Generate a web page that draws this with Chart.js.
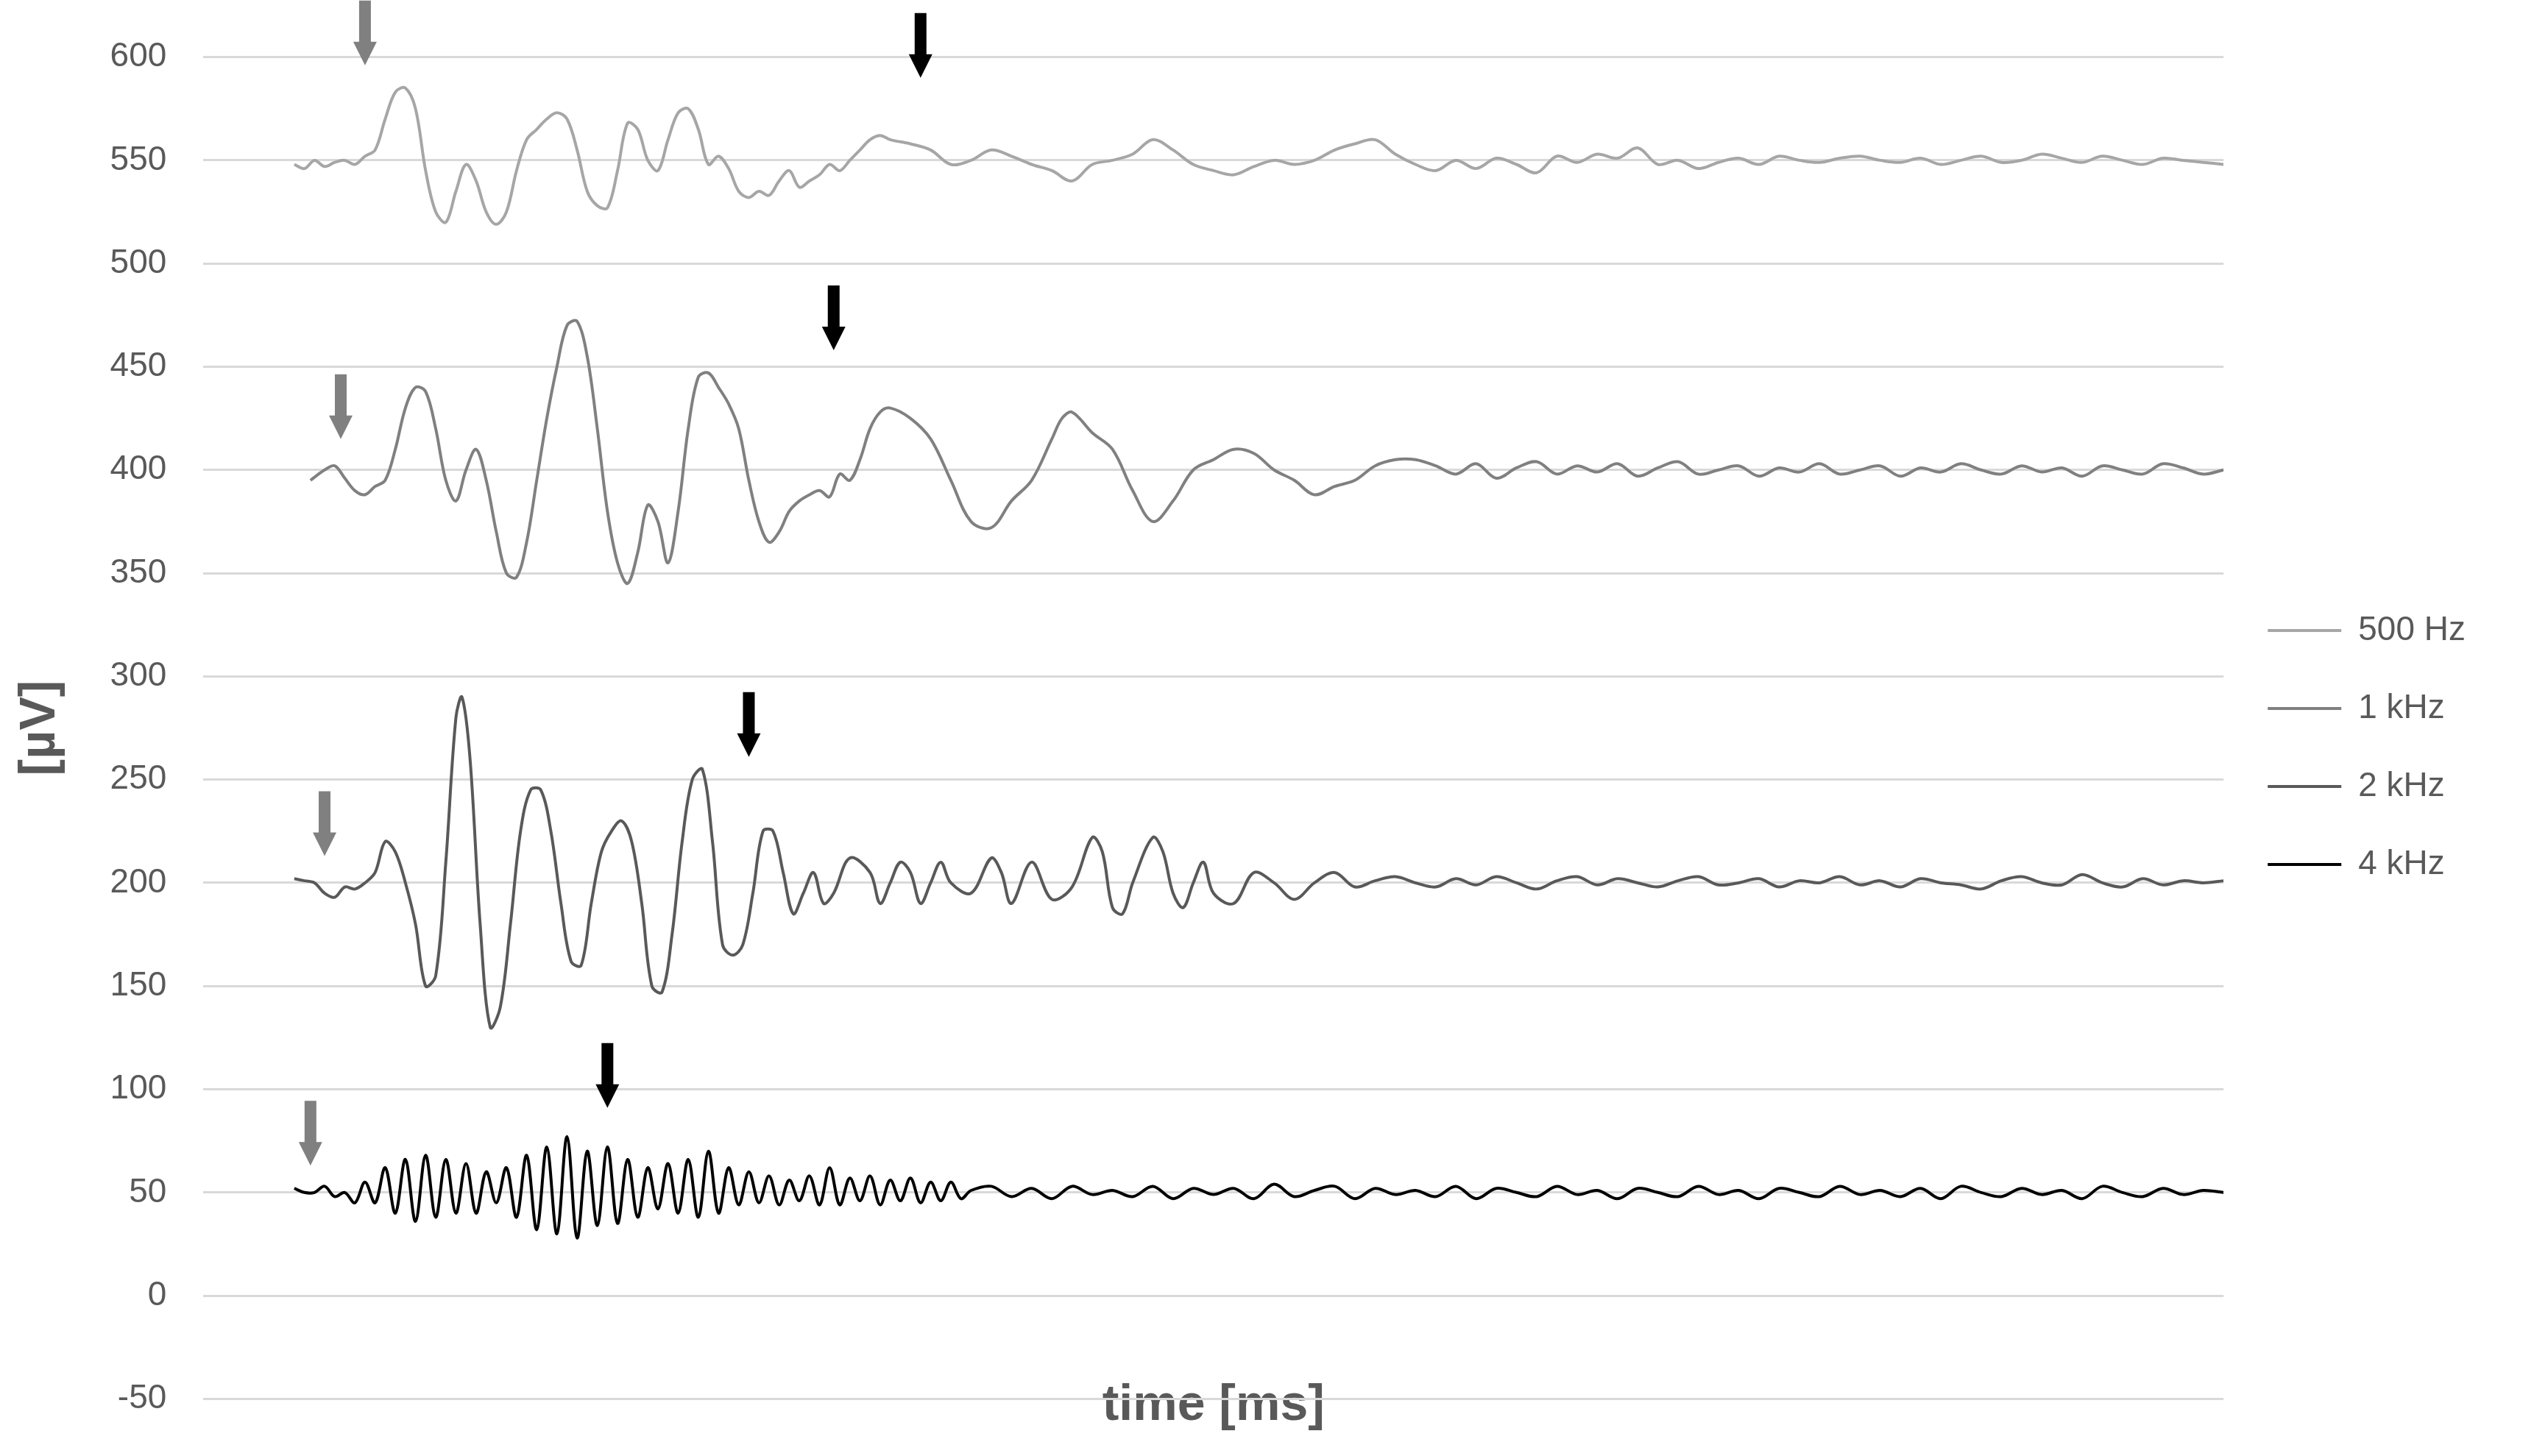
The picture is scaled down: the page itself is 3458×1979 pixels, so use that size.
<!DOCTYPE html>
<html><head><meta charset="utf-8">
<script src="https://cdn.jsdelivr.net/npm/chart.js@4/dist/chart.umd.min.js"></script>
<style>html,body{margin:0;background:#fff}#w{width:3458px;height:1979px}</style>
</head><body><div id="w"><canvas id="c"></canvas></div>
<script>
const seriesNames=["500 Hz","1 kHz","2 kHz","4 kHz"];
const t500=[0.45,0.5,0.55,0.6,0.65,0.7,0.75,0.8,0.85,0.9,0.95,1.0,1.05,1.1,1.15,1.2,1.25,1.3,1.35,1.4,1.45,1.5,1.55,1.6,1.65,1.7,1.75,1.8,1.85,1.9,1.95,2.0,2.05,2.1,2.15,2.2,2.25,2.3,2.35,2.4,2.45,2.5,2.55,2.6,2.65,2.7,2.75,2.8,2.85,2.9,2.95,3.0,3.05,3.1,3.15,3.2,3.25,3.3,3.35,3.4,3.5,3.6,3.7,3.8,3.9,4.0,4.1,4.2,4.3,4.4,4.5,4.6,4.7,4.8,4.9,5.0,5.1,5.2,5.3,5.4,5.5,5.6,5.7,5.8,5.9,6.0,6.1,6.2,6.3,6.4,6.5,6.6,6.7,6.8,6.9,7.0,7.1,7.2,7.3,7.4,7.5,7.6,7.7,7.8,7.9,8.0,8.1,8.2,8.3,8.4,8.5,8.6,8.7,8.8,8.9,9.0,9.1,9.2,9.3,9.4,9.5,9.6,9.7,9.8,9.9,10.0];
const v500=[548,546,550,547,549,550,548,552,555,570,583,585,575,545,525,520,535,548,540,525,519,525,545,560,565,570,573,570,555,535,528,527,545,568,565,550,545,560,573,575,565,548,552,546,535,532,535,533,540,545,537,540,543,548,545,550,555,560,562,560,558,555,548,550,555,552,548,545,540,548,550,553,560,555,548,545,543,547,550,548,550,555,558,560,553,548,545,550,546,551,548,544,552,549,553,551,556,548,550,546,549,551,548,552,550,549,551,552,550,549,551,548,550,552,549,550,553,551,549,552,550,548,551,550,549,548];
const t1k=[0.53,0.6,0.65,0.7,0.75,0.8,0.85,0.9,0.95,1.0,1.05,1.1,1.15,1.2,1.25,1.3,1.35,1.4,1.45,1.5,1.55,1.6,1.65,1.7,1.75,1.8,1.85,1.9,1.95,2.0,2.05,2.1,2.15,2.2,2.25,2.3,2.35,2.4,2.45,2.5,2.55,2.6,2.65,2.7,2.75,2.8,2.85,2.9,2.95,3.0,3.05,3.1,3.15,3.2,3.25,3.3,3.35,3.4,3.5,3.6,3.7,3.8,3.9,4.0,4.1,4.2,4.25,4.3,4.4,4.5,4.6,4.7,4.8,4.9,5.0,5.1,5.2,5.3,5.4,5.5,5.6,5.7,5.8,5.9,6.0,6.1,6.2,6.3,6.4,6.5,6.6,6.7,6.8,6.9,7.0,7.1,7.2,7.3,7.4,7.5,7.6,7.7,7.8,7.9,8.0,8.1,8.2,8.3,8.4,8.5,8.6,8.7,8.8,8.9,9.0,9.1,9.2,9.3,9.4,9.5,9.6,9.7,9.8,9.9,10.0];
const v1k=[395,400,402,396,390,388,392,395,410,430,440,438,420,395,385,400,410,395,370,350,348,365,395,425,450,470,472,455,420,380,355,345,360,383,375,355,380,420,445,447,440,432,420,395,375,365,370,380,385,388,390,387,398,395,405,420,428,430,425,415,395,375,372,385,395,415,425,428,418,410,390,375,385,400,405,410,408,400,395,388,392,395,402,405,405,402,398,403,396,401,404,398,402,399,403,397,401,404,398,400,402,397,401,399,403,398,400,402,397,401,399,403,400,398,402,399,401,397,402,400,398,403,401,398,400];
const t2k=[0.45,0.5,0.55,0.6,0.65,0.7,0.75,0.8,0.85,0.9,0.95,1.0,1.05,1.1,1.15,1.2,1.25,1.28,1.32,1.37,1.42,1.47,1.52,1.57,1.62,1.67,1.72,1.77,1.82,1.87,1.92,1.97,2.02,2.07,2.12,2.17,2.22,2.27,2.32,2.37,2.42,2.47,2.52,2.57,2.62,2.67,2.72,2.77,2.82,2.87,2.92,2.97,3.02,3.07,3.12,3.2,3.3,3.35,3.4,3.45,3.5,3.55,3.6,3.65,3.7,3.8,3.9,3.95,4.0,4.1,4.2,4.3,4.4,4.45,4.5,4.55,4.6,4.7,4.75,4.8,4.85,4.9,4.95,5.0,5.1,5.2,5.3,5.4,5.5,5.6,5.7,5.8,5.9,6.0,6.1,6.2,6.3,6.4,6.5,6.6,6.7,6.8,6.9,7.0,7.1,7.2,7.3,7.4,7.5,7.6,7.7,7.8,7.9,8.0,8.1,8.2,8.3,8.4,8.5,8.6,8.7,8.8,8.9,9.0,9.1,9.2,9.3,9.4,9.5,9.6,9.7,9.8,9.9,10.0];
const v2k=[202,201,200,195,193,198,197,200,205,220,215,200,180,150,155,210,280,290,260,180,130,140,180,225,245,245,225,190,162,160,190,215,225,230,220,190,150,147,175,220,250,255,220,170,165,170,195,225,225,205,185,195,205,190,195,212,205,190,200,210,205,190,200,210,200,195,212,205,190,210,192,198,222,215,188,185,200,222,215,195,188,200,210,195,190,205,200,192,200,205,198,201,203,200,198,202,199,203,200,197,201,203,199,202,200,198,201,203,199,200,202,198,201,200,203,199,201,198,202,200,199,197,201,203,200,199,204,200,198,202,199,201,200,201];
const t4k=[0.45,0.5,0.55,0.6,0.65,0.7,0.75,0.8,0.85,0.9,0.95,1.0,1.05,1.1,1.15,1.2,1.25,1.3,1.35,1.4,1.45,1.5,1.55,1.6,1.65,1.7,1.75,1.8,1.85,1.9,1.95,2.0,2.05,2.1,2.15,2.2,2.25,2.3,2.35,2.4,2.45,2.5,2.55,2.6,2.65,2.7,2.75,2.8,2.85,2.9,2.95,3.0,3.05,3.1,3.15,3.2,3.25,3.3,3.35,3.4,3.45,3.5,3.55,3.6,3.65,3.7,3.75,3.8,3.9,4.0,4.1,4.2,4.3,4.4,4.5,4.6,4.7,4.8,4.9,5.0,5.1,5.2,5.3,5.4,5.5,5.6,5.7,5.8,5.9,6.0,6.1,6.2,6.3,6.4,6.5,6.6,6.7,6.8,6.9,7.0,7.1,7.2,7.3,7.4,7.5,7.6,7.7,7.8,7.9,8.0,8.1,8.2,8.3,8.4,8.5,8.6,8.7,8.8,8.9,9.0,9.1,9.2,9.3,9.4,9.5,9.6,9.7,9.8,9.9,10.0];
const v4k=[52,50,50,53,48,50,45,55,45,62,40,66,36,68,38,66,40,64,40,60,45,62,38,68,32,72,30,77,28,70,34,72,35,66,38,62,42,64,40,66,38,70,40,62,44,60,45,58,44,56,46,58,44,62,44,57,46,58,44,56,46,57,45,55,46,55,47,51,53,48,52,47,53,49,51,48,53,47,52,49,52,47,54,48,51,53,47,52,49,51,48,53,47,52,50,48,53,49,51,47,52,50,48,53,49,51,47,52,50,48,53,49,51,48,52,47,53,50,48,52,49,51,47,53,50,48,52,49,51,50];
const arrowX=[0.8,3.55,0.68,3.12,0.6,2.7,0.53,2.0];
const arrowY=[596,590,415,458,213,261,63,91];
const arrowDark=[false,true,false,true,false,true,false,true];
const yTicks=[-50,0,50,100,150,200,250,300,350,400,450,500,550,600];
const colors=["#a6a6a6","#808080","#595959","#000000"];
const pts=(t,v)=>t.map((x,i)=>({x,y:v[i]}));
const allT=[t500,t1k,t2k,t4k], allV=[v500,v1k,v2k,v4k];
const arrows={id:'arrows',afterDatasetsDraw(ch){const c=ch.ctx,xs=ch.scales.x,ys=ch.scales.y;
 arrowX.forEach((ax,i)=>{const px=xs.getPixelForValue(ax),py=ys.getPixelForValue(arrowY[i]);
  c.save();c.fillStyle=arrowDark[i]?'#000':'#808080';c.beginPath();
  c.rect(px-8,py-88,16,58);c.moveTo(px-16,py-32);c.lineTo(px+16,py-32);c.lineTo(px,py);c.closePath();c.fill();c.restore();});}};
new Chart(document.getElementById('c'),{type:'line',
 data:{datasets:seriesNames.map((n,i)=>({label:n,data:pts(allT[i],allV[i]),borderColor:colors[i],backgroundColor:colors[i],borderWidth:4,pointRadius:0,tension:0.35,fill:false}))},
 options:{responsive:true,maintainAspectRatio:false,animation:false,
  layout:{padding:{top:73,right:98,left:10,bottom:20}},
  plugins:{legend:{position:'right',labels:{usePointStyle:true,pointStyle:'line',pointStyleWidth:100,boxHeight:4,color:'#595959',font:{family:'Liberation Sans',size:46},padding:60}},tooltip:{enabled:false}},
  scales:{x:{type:'linear',min:0,max:10,grid:{display:false},border:{display:false},ticks:{stepSize:1,color:'#595959',font:{family:'Liberation Sans',size:46},padding:-72},
    title:{display:true,text:'time [ms]',color:'#595959',padding:{top:50,bottom:0},font:{family:'Liberation Sans',size:68,weight:'bold'}}},
   y:{min:-50,max:600,afterBuildTicks:a=>{a.ticks=yTicks.map(v=>({value:v}));},grid:{color:'#d9d9d9',lineWidth:3,drawTicks:false},border:{display:false},ticks:{color:'#595959',font:{family:'Liberation Sans',size:46},padding:50},
    title:{display:true,text:'[µV]',color:'#595959',font:{family:'Liberation Sans',size:68,weight:'bold'}}}}},
 plugins:[arrows]});
</script></body></html>
